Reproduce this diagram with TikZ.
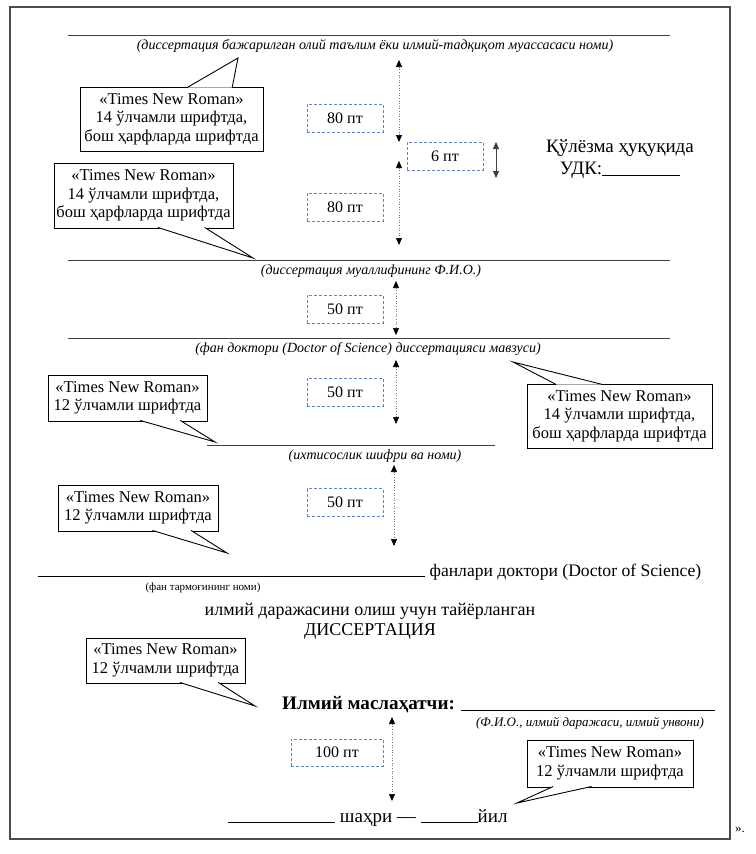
\documentclass[tikz,border=0pt]{standalone}
\usepackage{fontspec}
\setmainfont{Liberation Serif}
\usetikzlibrary{arrows.meta,calc}
\definecolor{gapblue}{RGB}{95,135,190}
\newcommand{\fsz}[2]{\fontsize{#1}{#2}\selectfont}

\begin{document}
\begin{tikzpicture}[x=1pt, y=-1pt,
    note/.style={draw, fill=white, line width=0.9, align=center,
      inner sep=2, font=\fsz{16.5}{18.5}},
    gapbox/.style={draw=gapblue, dash pattern=on 3pt off 2pt, line width=0.7,
      minimum width=76, minimum height=28, inner sep=0, font=\fsz{16}{18}},
    measure/.style={black!55, dotted, line width=0.6,
      {Triangle[length=7pt,width=6pt,color=black]}-{Triangle[length=7pt,width=6pt,color=black]}},
    formline/.style={black!75, line width=0.8},
    captxt/.style={font=\fsz{14}{16}\itshape},
    textrow/.style={anchor=base west, inner sep=0}]
  \useasboundingbox (0,0) rectangle (755,854);
  \draw[line width=1.6, black!70] (10,7) rectangle (730,839);

  % blank lines with their captions
  \draw[formline] (68,35) -- (670,35);
  \node[captxt] (c1) at (375,46) {(диссертация бажарилган олий таълим ёки илмий-тадқиқот муассасаси номи)};
  \draw[formline] (68,260) -- (670,260);
  \node[captxt] (c2) at (371,271) {(диссертация муаллифининг Ф.И.О.)};
  \draw[formline] (68,338) -- (670,338);
  \node[captxt] (c3) at (368,349) {(фан доктори (Doctor of Science) диссертацияси мавзуси)};
  \draw[formline] (207,445) -- (495,445);
  \node[captxt] (c4) at (375,456) {(ихтисослик шифри ва номи)};

  % spacing marks
  \node[gapbox] (g1) at (345,118) {80 пт};
  \node[gapbox] (g2) at (345,207) {80 пт};
  \node[gapbox] (g3) at (445,156) {6 пт};
  \node[gapbox] (g4) at (345,309) {50 пт};
  \node[gapbox] (g5) at (345,392) {50 пт};
  \node[gapbox] (g6) at (345,502.5) {50 пт};
  \node[gapbox, minimum width=92, minimum height=27] (g7) at (337,752.5) {100 пт};
  \draw[measure] (399,60) -- (399,142);
  \draw[measure] (399,161) -- (399,245);
  \draw[black!75, line width=0.9, {Triangle[length=7pt,width=6pt]}-{Triangle[length=7pt,width=6pt]}] %
    (496,142) -- (496,178);
  \draw[measure] (396,281) -- (396,335);
  \draw[measure] (396,360) -- (396,424);
  \draw[measure] (394,465) -- (394,546);
  \draw[measure] (392,717) -- (392,801);

  % page text
  \node[align=center, font=\fsz{19}{22}] (udk) at (620,159) {Қўлёзма ҳуқуқида\\УДК:\rule[-1pt]{78pt}{0.7pt}};
  \node[textrow, font=\fsz{17.6}{20}] (sci) at (38,576) %
    {\rule[-1pt]{387pt}{0.8pt} фанлари доктори (Doctor of Science)};
  \node[font=\fsz{11}{12}] (c5) at (203,588) {(фан тармоғининг номи)};
  \node[align=center, font=\fsz{18}{19.5}] (title) at (370,621) %
    {илмий даражасини олиш учун тайёрланган\\ДИССЕРТАЦИЯ};
  \node[textrow, font=\fsz{19.1}{22}] (adv) at (282,709) %
    {\textbf{Илмий маслаҳатчи:} \rule[-2pt]{254pt}{0.8pt}};
  \node[captxt, font=\fsz{13}{15}\itshape] (c6) at (590,723) {(Ф.И.О., илмий даражаси, илмий унвони)};
  \node[textrow, font=\fsz{19}{21}] (city) at (228,822) %
    {\rule[-1pt]{107pt}{0.8pt} шаҳри — \rule[-1pt]{57pt}{0.8pt}йил};
  \node[font=\fsz{13}{15}] (end) at (740,830) {».};

  % callouts
  \node[note, minimum width=183, minimum height=64] (n1) at (171.5,119) %
    {«Times New Roman»\\14 ўлчамли шрифтда,\\бош ҳарфларда шрифтда};
  \coordinate (t1) at (238,58);
  \filldraw[fill=white, line width=0.9] ($(n1.north west)!0.585!(n1.north east)+(0,1)$) %
    -- (t1) -- ($(n1.north west)!0.83!(n1.north east)+(0,1)$);
  \node[note, minimum width=179, minimum height=65] (n2) at (143.5,195.5) %
    {«Times New Roman»\\14 ўлчамли шрифтда,\\бош ҳарфларда шрифтда};
  \coordinate (t2) at (253,258);
  \filldraw[fill=white, line width=0.9] ($(n2.south west)!0.58!(n2.south east)+(0,-1)$) %
    -- (t2) -- ($(n2.south west)!0.84!(n2.south east)+(0,-1)$);
  \node[note, minimum width=159, minimum height=46] (n3) at (127.5,398) %
    {«Times New Roman»\\12 ўлчамли шрифтда};
  \coordinate (t3) at (215,442);
  \filldraw[fill=white, line width=0.9] ($(n3.south west)!0.58!(n3.south east)+(0,-1)$) %
    -- (t3) -- ($(n3.south west)!0.83!(n3.south east)+(0,-1)$);
  \node[note, minimum width=185, minimum height=64] (n4) at (619.5,416) %
    {«Times New Roman»\\14 ўлчамли шрифтда,\\бош ҳарфларда шрифтда};
  \coordinate (t4) at (513,362);
  \filldraw[fill=white, line width=0.9] ($(n4.north west)!0.16!(n4.north east)+(0,1)$) %
    -- (t4) -- ($(n4.north west)!0.41!(n4.north east)+(0,1)$);
  \node[note, minimum width=160, minimum height=46] (n5) at (138,508) %
    {«Times New Roman»\\12 ўлчамли шрифтда};
  \coordinate (t5) at (227,553);
  \filldraw[fill=white, line width=0.9] ($(n5.south west)!0.59!(n5.south east)+(0,-1)$) %
    -- (t5) -- ($(n5.south west)!0.83!(n5.south east)+(0,-1)$);
  \node[note, minimum width=159, minimum height=45] (n6) at (165.5,660.5) %
    {«Times New Roman»\\12 ўлчамли шрифтда};
  \coordinate (t6) at (255,706);
  \filldraw[fill=white, line width=0.9] ($(n6.south west)!0.59!(n6.south east)+(0,-1)$) %
    -- (t6) -- ($(n6.south west)!0.83!(n6.south east)+(0,-1)$);
  \node[note, minimum width=166, minimum height=47] (n7) at (610,763.5) %
    {«Times New Roman»\\12 ўлчамли шрифтда};
  \coordinate (t7) at (517,803);
  \filldraw[fill=white, line width=0.9] ($(n7.south west)!0.16!(n7.south east)+(0,-1)$) %
    -- (t7) -- ($(n7.south west)!0.39!(n7.south east)+(0,-1)$);
\end{tikzpicture}
\end{document}
